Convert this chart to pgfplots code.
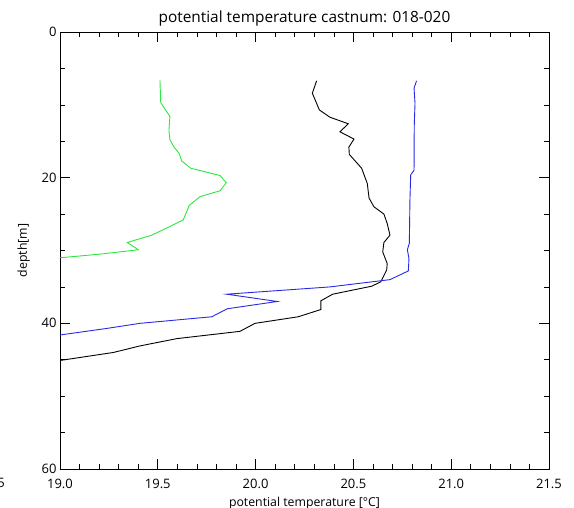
\documentclass[border=0pt]{standalone}
\usepackage{pgfplots}
\pgfplotsset{compat=1.18}
\usepackage{fontspec}
\setmainfont{Open Sans}
\definecolor{cgreen}{RGB}{45,230,65}
\definecolor{cblue}{RGB}{40,40,230}
\begin{document}
\begin{tikzpicture}
\useasboundingbox (-60pt,-39pt) rectangle (514pt,469pt);
\begin{axis}[
  at={(0,0)}, anchor=south west,
  scale only axis, width=489pt, height=437pt,
  xmin=19.0, xmax=21.5, ymin=0, ymax=60,
  y dir=reverse,
  xtick={19.0,19.5,20.0,20.5,21.0,21.5},
  minor x tick num=4,
  ytick={0,20,40,60},
  minor y tick num=3,
  tick align=inside,
  major tick length=10pt, minor tick length=5pt,
  tick style={black, line width=0.6pt},
  axis line style={line width=0.8pt},
  /pgf/number format/assume math mode=true,
  xticklabel style={/pgf/number format/fixed, /pgf/number format/fixed zerofill, /pgf/number format/precision=1},
  tick label style={font=\fontsize{13}{15}\selectfont},
  xticklabel style={yshift=-7pt},
  yticklabel style={xshift=0pt},
  title={potential temperature castnum: 018-020},
  title style={font=\fontsize{15.4}{17}\selectfont, yshift=-4pt},
  xlabel={potential temperature [°C]},
  xlabel style={font=\fontsize{12.3}{14}\selectfont, yshift=-1pt},
  ylabel={depth[m]},
  ylabel style={font=\fontsize{12.3}{14}\selectfont, yshift=5pt},
]
\addplot[cgreen, line width=0.9pt] coordinates {
(19.511,6.6) (19.515,9.7) (19.562,11.6) (19.557,13.5) (19.562,14.8) (19.583,15.8)
(19.610,16.7) (19.622,17.7) (19.668,18.7) (19.818,19.7) (19.850,20.7) (19.818,21.8)
(19.716,22.6) (19.661,23.8) (19.630,25.8) (19.562,26.7) (19.469,27.9) (19.344,28.9)
(19.400,29.9) (19.204,30.5) (19.0,31.0)
};
\addplot[black, line width=0.9pt] coordinates {
(20.312,6.7) (20.290,8.4) (20.326,10.7) (20.380,11.7) (20.474,12.6) (20.431,13.7)
(20.503,14.7) (20.477,15.8) (20.479,16.8) (20.542,18.7) (20.571,20.8) (20.580,22.8)
(20.605,24.0) (20.656,25.0) (20.673,26.3) (20.687,27.9) (20.656,28.9) (20.650,30.2)
(20.673,31.8) (20.670,32.7) (20.640,34.3) (20.594,34.9) (20.394,36.0) (20.334,36.9)
(20.334,38.1) (20.218,39.1) (19.997,40.0) (19.920,41.1) (19.597,42.1) (19.409,43.1)
(19.273,44.0) (19.0,45.1)
};
\addplot[cblue, line width=0.9pt] coordinates {
(20.823,6.7) (20.810,7.7) (20.815,9.8) (20.811,13.0) (20.810,19.0) (20.793,19.6)
(20.789,23.1) (20.786,29.0) (20.776,29.9) (20.784,31.1) (20.781,32.8) (20.687,34.0)
(20.380,35.0) (19.852,36.0) (20.111,37.0) (19.855,38.0) (19.776,39.1) (19.409,40.0)
(19.239,40.7) (19.0,41.6)
};
\end{axis}
\node[anchor=base east, font=\fontsize{13}{15}\selectfont, inner sep=0pt] at (-55pt,-19pt) {18.5};
\end{tikzpicture}
\end{document}
